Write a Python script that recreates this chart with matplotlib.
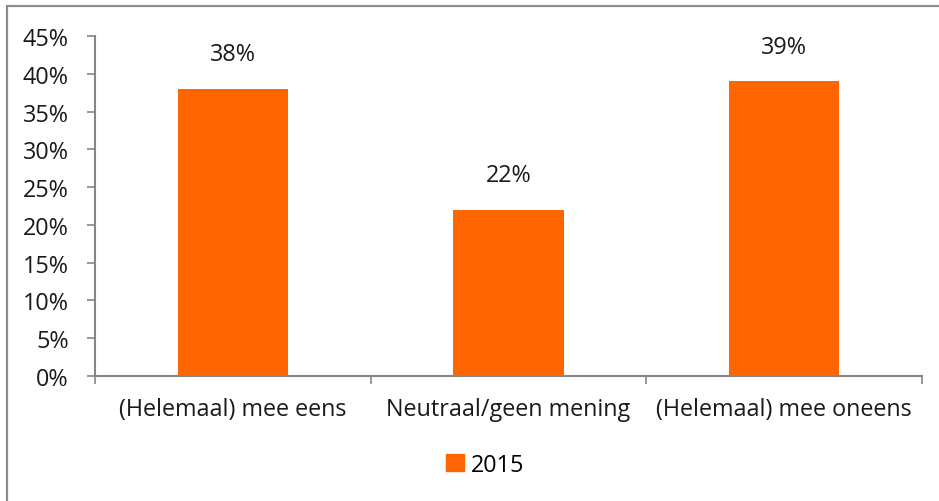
import matplotlib
matplotlib.use("Agg")
import matplotlib.pyplot as plt
from matplotlib.patches import Rectangle, Patch
from matplotlib.ticker import MultipleLocator, FuncFormatter, FixedLocator

plt.rcParams['font.family'] = ['Open Sans', 'DejaVu Sans']

# data
categories = ['(Helemaal) mee eens', 'Neutraal/geen mening', '(Helemaal) mee oneens']
values = [38, 22, 39]
series_name = '2015'

bar_color = '#FF6600'
axis_color = '#868686'
FS = 16.8

W, H = 939, 502
fig = plt.figure(figsize=(W / 100, H / 100), dpi=100)

# outer chart frame (cut off at right and bottom)
fig.patches.append(Rectangle((7 / W, -0.05), 1.1, 1 - 7 / H + 0.05,
                             transform=fig.transFigure, fill=False,
                             edgecolor='#8c8c8c', linewidth=1.6))

ax = fig.add_axes([95 / W, 1 - 377 / H, (922 - 95) / W, (377 - 37) / H])

x = list(range(len(categories)))
bars = ax.bar(x, values, width=0.4, color=bar_color, zorder=2)

for xi, v in zip(x, values):
    ax.annotate(f'{v}%', (xi, v), xytext=(0, 25), textcoords='offset points',
                ha='center', va='center', fontsize=FS, color='#1a1a1a')

ax.set_xlim(-0.5, len(categories) - 0.5)
ax.set_ylim(0, 45)
ax.yaxis.set_major_locator(MultipleLocator(5))
ax.yaxis.set_major_formatter(FuncFormatter(lambda v, p: f'{int(v)}%'))

ax.set_xticks(x)
ax.set_xticklabels(categories)
ax.xaxis.set_minor_locator(FixedLocator([i - 0.5 for i in range(len(categories) + 1)]))
ax.tick_params(axis='x', which='major', length=0, pad=15, labelsize=FS, labelcolor='#1a1a1a')
ax.tick_params(axis='x', which='minor', length=6, color=axis_color, width=1.2)
ax.tick_params(axis='y', length=6, color=axis_color, width=1.2, pad=13,
               labelsize=FS, labelcolor='#1a1a1a')

for s in ['top', 'right']:
    ax.spines[s].set_visible(False)
for s in ['left', 'bottom']:
    ax.spines[s].set_color(axis_color)
    ax.spines[s].set_linewidth(1.5)

fig.legend(handles=[Patch(color=bar_color, label=series_name)],
           loc='center', bbox_to_anchor=(485 / W, 1 - 466 / H), frameon=False,
           fontsize=FS, handlelength=0.75, handleheight=0.75, handletextpad=0.3)

fig.savefig('out.png', dpi=100)
